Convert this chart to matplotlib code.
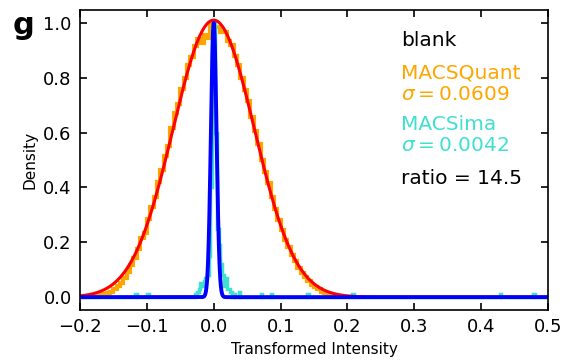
import numpy as np
import matplotlib
matplotlib.use('Agg')
import matplotlib.pyplot as plt

# MACSQuant blank histogram (bin width 0.005, from -0.2), peak-normalised
quant_start = -0.2
quant_width = 0.005
quant_heights = [0.00, 0.00, 0.00, 0.00, 0.002, 0.004, 0.006, 0.010, 0.015, 0.020,
                 0.028, 0.040, 0.052, 0.070, 0.090, 0.118, 0.142, 0.175, 0.215, 0.235,
                 0.285, 0.330, 0.365, 0.420, 0.462, 0.515, 0.550, 0.615, 0.670, 0.705,
                 0.760, 0.800, 0.845, 0.875, 0.915, 0.940, 0.925, 0.955, 0.945, 0.995,
                 0.985, 0.985, 0.965, 0.965, 0.935, 0.920, 0.880, 0.845, 0.800, 0.755,
                 0.715, 0.655, 0.605, 0.560, 0.500, 0.455, 0.415, 0.365, 0.320, 0.280,
                 0.245, 0.210, 0.182, 0.152, 0.130, 0.108, 0.088, 0.072, 0.058, 0.046,
                 0.036, 0.028, 0.020, 0.015, 0.010, 0.008, 0.005, 0.003, 0.002, 0.001,
                 0.001]

# MACSima blank histogram: only the non-empty bins (bin width 0.0025)
sima_width = 0.0025
sima_left = [-0.1175, -0.1, -0.0275, -0.025, -0.0225, -0.02, -0.0175, -0.015, -0.0125,
             -0.01, -0.0075, -0.005, -0.0025, 0.0, 0.0025, 0.005, 0.0075, 0.01,
             0.0125, 0.015, 0.0175, 0.02, 0.0225, 0.025, 0.03, 0.0375,
             0.07, 0.085, 0.14, 0.2075, 0.4275, 0.4775]
sima_heights = [0.01, 0.01, 0.01, 0.02, 0.03, 0.05, 0.04, 0.06, 0.07,
                0.08, 0.15, 0.40, 0.98, 1.00, 0.60, 0.25, 0.19, 0.12,
                0.08, 0.04, 0.07, 0.03, 0.03, 0.02, 0.01, 0.02,
                0.01, 0.01, 0.01, 0.01, 0.01, 0.01]

# gaussian fits shown in the panel
quant_sigma = 0.0609
quant_amp = 1.01
sima_sigma = 0.0042
sima_amp = 1.0
ratio = 14.5

# build step data
q_edges = quant_start + quant_width * np.arange(len(quant_heights) + 1)
s_edges = np.arange(-0.2, 0.5 + sima_width / 2, sima_width)
s_heights = np.zeros(len(s_edges) - 1)
for left, h in zip(sima_left, sima_heights):
    s_heights[int(round((left + 0.2) / sima_width))] = h

xs = np.linspace(-0.2, 0.5, 3000)
red_fit = quant_amp * np.exp(-xs**2 / (2 * quant_sigma**2))
blue_fit = sima_amp * np.exp(-xs**2 / (2 * sima_sigma**2))

fig = plt.figure(figsize=(5.81, 3.62), dpi=100)
ax = fig.add_axes([0.1377, 0.1436, 0.8055, 0.8288])

ax.stairs(quant_heights, q_edges, color='orange', lw=3)
ax.stairs(s_heights, s_edges, color='turquoise', lw=2.5)
ax.plot(xs, red_fit, color='red', lw=2.2)
ax.plot(xs, blue_fit, color='blue', lw=2.8)

ax.set_xlim(-0.2, 0.5)
ax.set_ylim(-0.047, 1.047)
ax.set_xticks(np.arange(-0.2, 0.51, 0.1))
ax.set_yticks(np.arange(0, 1.01, 0.2))
fmt = matplotlib.ticker.FuncFormatter(lambda v, p: ('%.1f' % v).replace('-', '\u2212'))
ax.xaxis.set_major_formatter(fmt)
ax.yaxis.set_major_formatter(fmt)
ax.tick_params(direction='in', length=5, width=1.2, labelsize=13,
               top=True, right=True, pad=6)
for s in ax.spines.values():
    s.set_linewidth(1.2)

ax.set_xlabel('Transformed Intensity', fontsize=11)
ax.set_ylabel('Density', fontsize=11)

tx = 0.686
ax.text(tx, 0.88, 'blank', transform=ax.transAxes, fontsize=14.5, color='black')
ax.text(tx, 0.773, 'MACSQuant', transform=ax.transAxes, fontsize=14.5, color='orange')
ax.text(tx, 0.70, r'$\sigma = %.4f$' % quant_sigma, transform=ax.transAxes,
        fontsize=14.5, color='orange')
ax.text(tx, 0.60, 'MACSima', transform=ax.transAxes, fontsize=14.5, color='turquoise')
ax.text(tx, 0.53, r'$\sigma = %.4f$' % sima_sigma, transform=ax.transAxes,
        fontsize=14.5, color='turquoise')
ax.text(tx, 0.42, 'ratio = %.1f' % ratio, transform=ax.transAxes, fontsize=14.5,
        color='black')

fig.text(0.022, 0.906, 'g', fontsize=22, fontweight='bold')

fig.savefig('out.png', dpi=100)
